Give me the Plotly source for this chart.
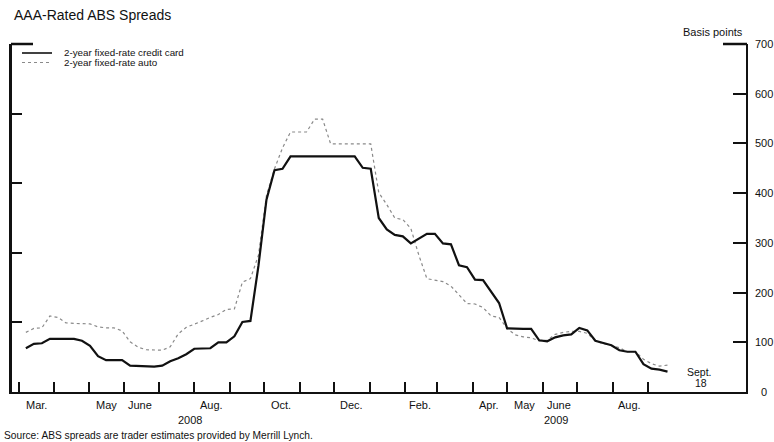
import pandas as pd
import plotly.graph_objects as go

# ---- data (weekly, Fridays) ----
week_start = "2008-03-07"
week_end = "2009-09-18"
credit_card = [88, 97, 98, 107,
               107, 107, 107, 103,
               93, 72, 64, 64, 64,
               53, 52, 52, 51,
               53, 62, 68, 76,
               87, 88, 88, 100, 100,
               112, 141, 143, 254,
               387, 446, 449, 474, 474,
               474, 474, 474, 474,
               474, 474, 474, 451,
               449, 350, 327, 316, 313,
               299, 308, 318, 318,
               299, 297, 255, 251,
               226, 225, 203, 179,
               128, 127, 127, 127, 104,
               102, 110, 114, 116,
               129, 124, 103, 98, 94,
               84, 81, 81, 56,
               47, 45, 41]
auto = [120, 128, 129, 153,
        150, 139, 138, 138,
        137, 131, 129, 129, 123,
        101, 90, 85, 84,
        84, 91, 117, 130,
        136, 143, 150, 156, 166,
        167, 221, 228, 275,
        395, 449, 491, 523, 523,
        523, 549, 549, 499,
        499, 499, 499, 499,
        499, 401, 377, 350, 347,
        329, 275, 228, 225,
        222, 213, 196, 178,
        177, 170, 153, 150,
        128, 115, 111, 109, 103,
        104, 116, 120, 122,
        122, 118, 103, 97, 94,
        89, 81, 81, 66,
        57, 52, 54]
series_names = ["2-year fixed-rate credit card", "2-year fixed-rate auto"]
month_labels = ["Mar.", "May", "June", "Aug.", "Oct.", "Dec.",
                "Feb.", "Apr.", "May", "June", "Aug."]
month_label_dates = ["2008-03-16", "2008-05-16", "2008-06-15", "2008-08-16",
                     "2008-10-16", "2008-12-16", "2009-02-14", "2009-04-15",
                     "2009-05-16", "2009-06-15", "2009-08-16"]
year_labels = ["2008", "2009"]
year_label_dates = ["2008-07-28", "2009-06-13"]
y_ticks = [0, 100, 200, 300, 400, 500, 600, 700]

dates = pd.date_range(week_start, week_end, freq="W-FRI")
month_ticks = pd.date_range("2008-03-01", "2009-09-01", freq="MS")

FONT = "Liberation Sans, Arial, sans-serif"
TXT = "#111111"
W, H = 774, 442
L, R, T, B = 12, 28, 44, 50
PW, PH = W - L - R, H - T - B


def px(x):
    return (x - L) / PW


def py(y):
    return (H - B - y) / PH


fig = go.Figure()
fig.add_trace(go.Scatter(x=dates, y=auto, mode="lines", name=series_names[1],
                         line=dict(color="#8a8a8a", width=1.2, dash="dot"),
                         showlegend=False))
fig.add_trace(go.Scatter(x=dates, y=credit_card, mode="lines", name=series_names[0],
                         line=dict(color="#111111", width=2.2),
                         showlegend=False))
fig.add_trace(go.Scatter(x=[dates[0]], y=[None], yaxis="y2", showlegend=False,
                         hoverinfo="skip"))

annotations = []
annotations.append(dict(text="AAA-Rated ABS Spreads", x=px(12), y=py(15),
                        xref="paper", yref="paper", xanchor="left", yanchor="middle",
                        showarrow=False, font=dict(size=14, color=TXT)))
annotations.append(dict(text="Basis points", x=px(745), y=py(32),
                        xref="paper", yref="paper", xanchor="right", yanchor="middle",
                        showarrow=False, font=dict(size=11, color=TXT)))
annotations.append(dict(text="Source: ABS spreads are trader estimates provided by Merrill Lynch.",
                        x=px(2), y=py(435), xref="paper", yref="paper",
                        xanchor="left", yanchor="middle", showarrow=False,
                        font=dict(size=10.2, color=TXT)))
for v in y_ticks:
    annotations.append(dict(text=str(v), x=px(764), y=v, xref="paper", yref="y",
                            xanchor="center", yanchor="middle", showarrow=False,
                            font=dict(size=11, color=TXT)))
for lab, d in zip(month_labels, month_label_dates):
    annotations.append(dict(text=lab, x=d, y=py(405), xref="x", yref="paper",
                            xanchor="center", yanchor="middle", showarrow=False,
                            font=dict(size=11, color=TXT)))
for lab, d in zip(year_labels, year_label_dates):
    annotations.append(dict(text=lab, x=d, y=py(420), xref="x", yref="paper",
                            xanchor="center", yanchor="middle", showarrow=False,
                            font=dict(size=11, color=TXT)))
annotations.append(dict(text="Sept.", x=px(699), y=py(372), xref="paper", yref="paper",
                        xanchor="center", yanchor="middle", showarrow=False,
                        font=dict(size=10.5, color=TXT)))
annotations.append(dict(text="18", x=px(701), y=py(383), xref="paper", yref="paper",
                        xanchor="center", yanchor="middle", showarrow=False,
                        font=dict(size=10.5, color=TXT)))
annotations.append(dict(text=series_names[0], x=px(62), y=py(52.5), xref="paper", yref="paper",
                        xanchor="left", yanchor="middle", showarrow=False,
                        font=dict(size=9.8, color=TXT)))
annotations.append(dict(text=series_names[1], x=px(62), y=py(62.5), xref="paper", yref="paper",
                        xanchor="left", yanchor="middle", showarrow=False,
                        font=dict(size=9.8, color=TXT)))

shapes = [
    dict(type="line", xref="paper", yref="paper", x0=px(22), x1=px(52), y0=py(53), y1=py(53),
         line=dict(color="#111", width=1.6)),
    dict(type="line", xref="paper", yref="paper", x0=px(22), x1=px(52), y0=py(62.5), y1=py(62.5),
         line=dict(color="#8a8a8a", width=1.2, dash="dot")),
    dict(type="line", xref="paper", yref="paper", x0=px(11), x1=px(33), y0=1, y1=1,
         line=dict(color="#111", width=2.5)),
    dict(type="line", xref="paper", yref="paper", x0=px(723), x1=px(747), y0=1, y1=1,
         line=dict(color="#111", width=2.5)),
]

fig.update_layout(
    width=W, height=H,
    margin=dict(l=L, r=R, t=T, b=B, autoexpand=False),
    paper_bgcolor="white", plot_bgcolor="white",
    font=dict(family=FONT, color=TXT),
    showlegend=False,
    xaxis=dict(type="date", range=["2008-02-23 22:00", "2009-11-25 12:00"],
               showgrid=False, zeroline=False, showline=True, linecolor="#111", linewidth=2,
               tickvals=month_ticks, ticks="inside", ticklen=10, tickwidth=2,
               tickcolor="#111", showticklabels=False, fixedrange=True),
    yaxis=dict(range=[0, 700], side="right", showgrid=False, zeroline=False,
               showline=True, linecolor="#111", linewidth=2,
               tickvals=y_ticks, ticks="inside", ticklen=13, tickwidth=2, tickcolor="#111",
               showticklabels=False),
    yaxis2=dict(range=[0, 5], overlaying="y", side="left", showgrid=False, zeroline=False,
                showline=True, linecolor="#111", linewidth=3,
                tickvals=[0, 1, 2, 3, 4, 5], ticks="inside", ticklen=10, tickwidth=2,
                tickcolor="#111", showticklabels=False),
    annotations=annotations,
    shapes=shapes,
)

fig.write_html("out.html",
               config={"displayModeBar": False},
               post_script="document.body.style.margin='0';document.body.style.overflow='hidden';")
